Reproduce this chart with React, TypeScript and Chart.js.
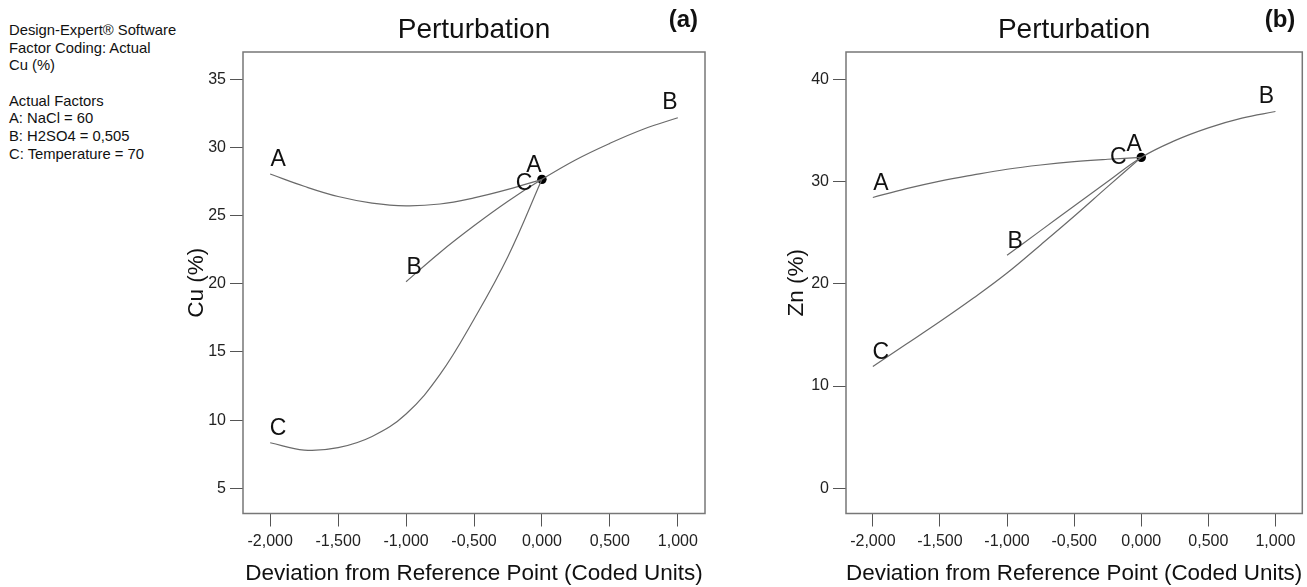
import React, { useEffect, useRef } from "react";
import { Chart, registerables } from "chart.js";
Chart.register(...registerables);

const FONT = '"Liberation Sans", Arial, Helvetica, sans-serif';

// ---- tick values ----
const xTickValues = [-2, -1.5, -1, -0.5, 0, 0.5, 1];
const cuTickValues = [5, 10, 15, 20, 25, 30, 35];
const znTickValues = [0, 10, 20, 30, 40];

// ---- Cu (%) panel (a) ----
const cuAx = [-2, -1.75, -1.5, -1.25, -1, -0.75, -0.5, -0.25, 0];
const cuAy = [28.05, 27.15, 26.4, 25.92, 25.72, 25.85, 26.3, 26.92, 27.66];
const cuBx = [-1, -0.75, -0.5, -0.25, 0, 0.25, 0.5, 0.75, 1];
const cuBy = [20.15, 22.3, 24.25, 26.05, 27.66, 29.1, 30.3, 31.35, 32.18];
const cuCx = [-2, -1.75, -1.5, -1.25, -1, -0.75, -0.5, -0.25, 0];
const cuCy = [8.34, 7.8, 7.98, 8.8, 10.45, 13.35, 17.4, 22.0, 27.66];
const cuRefValue = 27.66;

// ---- Zn (%) panel (b) ----
const znAx = [-2, -1.75, -1.5, -1.25, -1, -0.75, -0.5, -0.25, 0];
const znAy = [28.44, 29.3, 30.04, 30.65, 31.2, 31.62, 31.95, 32.18, 32.36];
const znBx = [-1, -0.75, -0.5, -0.25, 0, 0.25, 0.5, 0.75, 1];
const znBy = [22.79, 25.2, 27.6, 30.0, 32.36, 34.0, 35.25, 36.2, 36.85];
const znCx = [-2, -1.75, -1.5, -1.25, -1, -0.75, -0.5, -0.25, 0];
const znCy = [11.92, 14.1, 16.3, 18.6, 21.05, 23.8, 26.6, 29.5, 32.36];
const znRefValue = 32.36;

const infoLines = [
  "Design-Expert® Software",
  "Factor Coding: Actual",
  "Cu (%)",
  "",
  "Actual Factors",
  "A: NaCl = 60",
  "B: H2SO4 = 0,505",
  "C: Temperature = 70",
];

const LINE_COLOR = "#6a6a6a";

function fmtX(v: number) {
  return v.toFixed(3).replace(".", ",");
}

const decorPlugin = {
  id: "decor",
  beforeDatasetsDraw(chart: any) {
    const { ctx, chartArea: a } = chart;
    ctx.save();
    ctx.strokeStyle = "#777";
    ctx.lineWidth = 1.5;
    ctx.strokeRect(a.left, a.top, a.right - a.left, a.bottom - a.top);
    ctx.restore();
  },
  afterDatasetsDraw(chart: any, _args: any, opts: any) {
    const { ctx, chartArea: a } = chart;
    ctx.save();
    ctx.fillStyle = "#111";
    ctx.textBaseline = "middle";
    ctx.textAlign = "center";
    ctx.font = `28px ${FONT}`;
    ctx.fillText(opts.title, (a.left + a.right) / 2, a.top - 22);
    ctx.font = `bold 24px ${FONT}`;
    ctx.textAlign = "right";
    ctx.fillText(opts.panel, a.right - 7, a.top - 32);
    ctx.font = `23px ${FONT}`;
    ctx.textAlign = "center";
    chart.data.datasets.forEach((ds: any, i: number) => {
      if (!ds.letter) return;
      const pts = chart.getDatasetMeta(i).data;
      const s = pts[0];
      const e = pts[pts.length - 1];
      ctx.fillText(ds.letter, s.x + 8, s.y - 14);
      const off = opts.endOffsets[ds.letter];
      ctx.fillText(ds.letter, e.x + off[0], e.y + off[1]);
    });
    ctx.restore();
  },
};

type PanelProps = {
  left: number;
  width: number;
  padLeft: number;
  yWidth: number;
  padRight: number;
  yTitle: string;
  yMin: number;
  yMax: number;
  yTicks: number[];
  series: { name: string; x: number[]; y: number[] }[];
  refValue: number;
  panel: string;
  endOffsets: Record<string, [number, number]>;
};

function Panel(p: PanelProps) {
  const ref = useRef<HTMLCanvasElement>(null);
  useEffect(() => {
    const canvas = ref.current!;
    const datasets: any[] = p.series.map((s) => ({
      letter: s.name,
      data: s.x.map((v, i) => ({ x: v, y: s.y[i] })),
      showLine: true,
      borderColor: LINE_COLOR,
      borderWidth: 1.2,
      pointRadius: 0,
      tension: 0.4,
      fill: false,
    }));
    datasets.push({
      data: [{ x: 0, y: p.refValue }],
      showLine: false,
      pointRadius: 4.7,
      backgroundColor: "#000",
      borderColor: "#000",
      borderWidth: 0,
    });
    const tickFont = { family: FONT, size: 16 };
    const titleFont = { family: FONT, size: 22.5 };
    const chart = new Chart(canvas, {
      type: "scatter",
      data: { datasets },
      plugins: [decorPlugin],
      options: {
        animation: false,
        responsive: false,
        devicePixelRatio: 1,
        layout: { padding: { left: p.padLeft, top: 52, right: p.padRight, bottom: 0 } },
        plugins: {
          legend: { display: false },
          tooltip: { enabled: false },
          decor: { title: "Perturbation", panel: p.panel, endOffsets: p.endOffsets },
        } as any,
        scales: {
          x: {
            type: "linear",
            min: -2.2,
            max: 1.2,
            afterBuildTicks: (sc: any) => {
              sc.ticks = xTickValues.map((v) => ({ value: v }));
            },
            afterFit: (sc: any) => {
              sc.height = 73.5;
            },
            ticks: {
              callback: (v: any) => fmtX(Number(v)),
              font: tickFont,
              color: "#222",
              padding: 5,
              maxRotation: 0,
              autoSkip: false,
            },
            grid: { drawOnChartArea: false, drawTicks: true, tickLength: 13, color: "#555" },
            border: { display: false },
            title: {
              display: true,
              text: "Deviation from Reference Point (Coded Units)",
              font: titleFont,
              color: "#111",
              padding: 0,
            },
          },
          y: {
            type: "linear",
            min: p.yMin,
            max: p.yMax,
            afterBuildTicks: (sc: any) => {
              sc.ticks = p.yTicks.map((v) => ({ value: v }));
            },
            afterFit: (sc: any) => {
              sc.width = p.yWidth;
            },
            ticks: { font: tickFont, color: "#222", padding: 4, autoSkip: false },
            grid: { drawOnChartArea: false, drawTicks: true, tickLength: 13, color: "#555" },
            border: { display: false },
            title: { display: true, text: p.yTitle, font: titleFont, color: "#111", padding: 0 },
          },
        },
      } as any,
    });
    return () => chart.destroy();
  }, []);
  return (
    <canvas
      ref={ref}
      width={p.width}
      height={587}
      style={{ position: "absolute", left: p.left, top: 0, width: p.width, height: 587 }}
    />
  );
}

export default function App() {
  return (
    <div
      style={{
        position: "fixed",
        left: 0,
        top: 0,
        width: 1307,
        height: 587,
        background: "#fff",
        overflow: "hidden",
      }}
    >
      <div
        style={{
          position: "absolute",
          left: 9,
          top: 22,
          fontFamily: FONT,
          fontSize: 14.8,
          lineHeight: "17.7px",
          color: "#111",
          whiteSpace: "pre",
        }}
      >
        {infoLines.map((l, i) => (
          <div key={i} style={{ height: 17.7 }}>
            {l}
          </div>
        ))}
      </div>
      <Panel
        left={0}
        width={740}
        padLeft={183.5}
        yWidth={59.5}
        padRight={35}
        yTitle="Cu (%)"
        yMin={3.15}
        yMax={37.0}
        yTicks={cuTickValues}
        series={[
          { name: "A", x: cuAx, y: cuAy },
          { name: "B", x: cuBx, y: cuBy },
          { name: "C", x: cuCx, y: cuCy },
        ]}
        refValue={cuRefValue}
        panel="(a)"
        endOffsets={{ A: [-8, -14], B: [-8, -15], C: [-18, 4] }}
      />
      <Panel
        left={740}
        width={567}
        padLeft={43.5}
        yWidth={62.5}
        padRight={2}
        yTitle="Zn (%)"
        yMin={-2.47}
        yMax={42.67}
        yTicks={znTickValues}
        series={[
          { name: "A", x: znAx, y: znAy },
          { name: "B", x: znBx, y: znBy },
          { name: "C", x: znCx, y: znCy },
        ]}
        refValue={znRefValue}
        panel="(b)"
        endOffsets={{ A: [-7, -13], B: [-9, -15], C: [-23, 0] }}
      />
    </div>
  );
}
